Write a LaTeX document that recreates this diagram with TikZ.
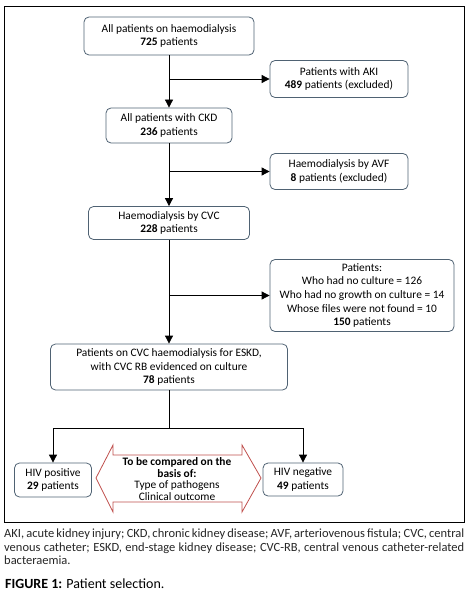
\documentclass[tikz,border=0pt]{standalone}
\usepackage{fontspec}
\setmainfont{Carlito}
\usepackage{xcolor}
\usetikzlibrary{
	arrows.meta,
	calc,
	positioning
}
\definecolor{boxline}{HTML}{4F6273}
\definecolor{arrowred}{HTML}{C0504D}

\begin{document}
\begin{tikzpicture}[x=1pt, y=-1pt,
		box/.style={draw=boxline, line width=0.8pt, rounded corners=5pt, align=center, inner sep=0pt, font=\fontsize{11.4}{13.7}\selectfont},
		arr/.style={-{Triangle[length=8pt, width=8pt]}, line width=0.8pt}]
		\useasboundingbox (0,0) rectangle (475,599);
		\draw[line width=0.9pt] (4,6) rectangle (464,522);
		% main column
		\node[box, minimum width=170pt, minimum height=38pt] (all) at (169,36) {All patients on haemodialysis\\\textbf{725} patients};
		\node[box, minimum width=126pt, minimum height=35pt] (ckd) at (169,125.5) {All patients with CKD\\\textbf{236} patients};
		\node[box, minimum width=161pt, minimum height=33pt] (cvc) at (169,223) {Haemodialysis by CVC\\\textbf{228} patients};
		\node[box, minimum width=237pt, minimum height=46pt] (eskd) at (169,367) {Patients on CVC haemodialysis for ESKD,\\with CVC RB evidenced on culture\\\textbf{78} patients};
		% excluded
		\node[box, minimum width=138pt, minimum height=37pt] (aki) at (339,79) {Patients with AKI\\\textbf{489} patients (excluded)};
		\node[box, minimum width=138pt, minimum height=36pt] (avf) at (339,171.5) {Haemodialysis by AVF\\\textbf{8} patients (excluded)};
		\node[box, minimum width=184pt, minimum height=72pt] (nocult) at (362,295.5) {Patients:\\Who had no culture = 126\\Who had no growth on culture = 14\\Whose files were not found = 10\\\textbf{150} patients};
		% groups
		\node[box, minimum width=77pt, minimum height=34pt] (hivpos) at (53,480) {HIV positive\\\textbf{29} patients};
		\node[box, minimum width=80pt, minimum height=33pt] (hivneg) at (303,479.5) {HIV negative\\\textbf{49} patients};
		\coordinate (split) at (169,428);
		\draw[arr] (all) -- (ckd);
		\draw[arr] (ckd) -- (cvc);
		\draw[arr] (cvc) -- (eskd);
		\draw[arr] (all.south |- aki.west) -- (aki.west);
		\draw[arr] (ckd.south |- avf.west) -- (avf.west);
		\draw[arr] (cvc.south |- nocult.west) -- (nocult.west);
		\draw[line width=0.8pt] (eskd) -- (split);
		\draw[arr] (split) -| (hivpos);
		\draw[arr] (split) -| (hivneg);
		% double arrow
		\draw[arrowred, line width=0.8pt, fill=white] (96,478) -- (113,445) -- (113,455) -- (242,455) -- (242,445) -- (261,478) -- (242,512) -- (242,502) -- (113,502) -- (113,512) -- cycle;
		\node[align=center, inner sep=0pt, font=\fontsize{11.4}{11.6}\selectfont] (compare) at (177,479) {\textbf{To be compared on the}\\\textbf{basis of:}\\Type of pathogens\\Clinical outcome};
		% caption
		\node[anchor=north west, text width=460pt, align=justify, inner sep=0pt, font=\fontsize{12.5}{13.3}\selectfont, text=black!85] (legend) at (4,529) {AKI, acute kidney injury; CKD, chronic kidney disease; AVF, arteriovenous fistula; CVC, central\linebreak venous catheter; ESKD, end-stage kidney disease; CVC-RB, central venous catheter-related\linebreak bacteraemia.};
		\node[anchor=base west, inner sep=0pt, font=\fontsize{14}{16}\selectfont] (title) at (5,588) {\textbf{FIGURE 1:} Patient selection.};
	\end{tikzpicture}
\end{document}
